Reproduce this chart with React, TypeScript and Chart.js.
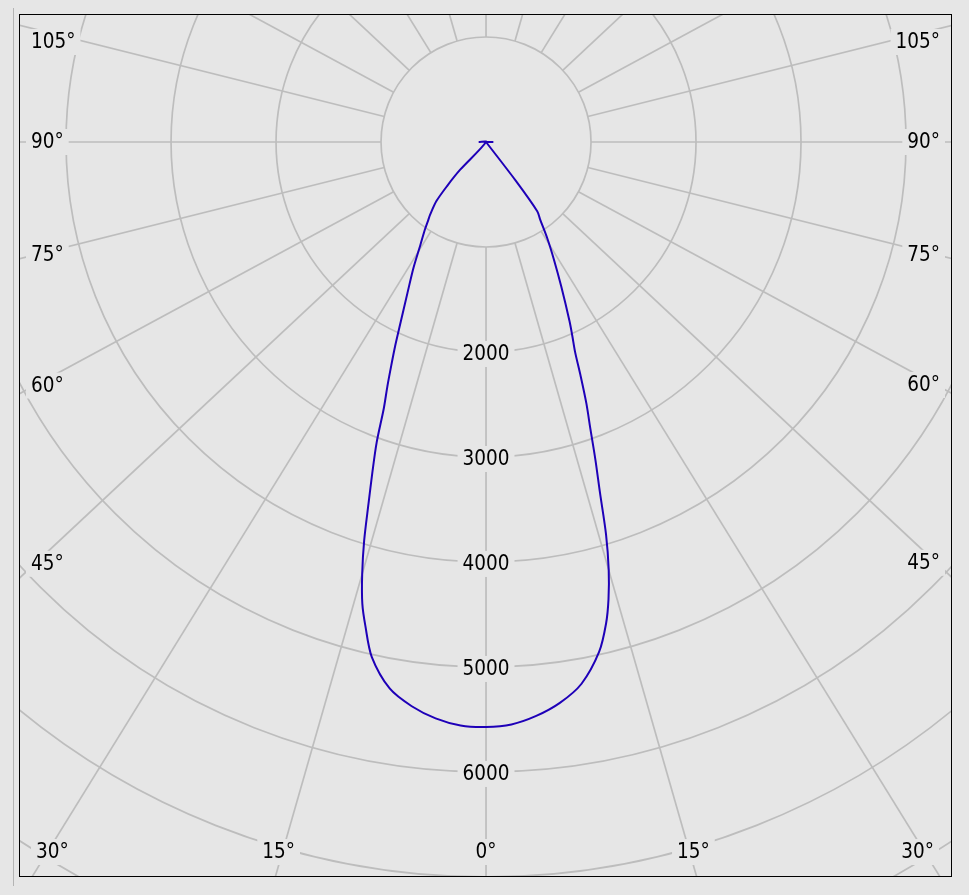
import { useEffect, useRef } from "react";
import { Chart, registerables } from "chart.js";

Chart.register(...registerables);

// Gamma angles (deg from nadir) and luminous intensity (cd) for both half planes
const ANGLES = [0, 2.5, 5, 7.5, 10, 12.5, 14, 15, 16, 17, 18, 19, 20, 21, 22, 23, 24, 25, 27.5, 30, 32.5, 35, 36.5, 37.5, 40, 41.5, 43, 45, 90];
const C180_CD = [5571, 5562, 5510, 5420, 5285, 5025, 4750, 4552, 4279, 3970, 3622, 3323, 3045, 2716, 2507, 2308, 2129, 1955, 1620, 1380, 1165, 1012, 925, 876, 735, 560, 364, 0, 70];
const C0_CD = [5571, 5552, 5487, 5388, 5239, 4975, 4726, 4507, 4239, 3910, 3512, 3199, 2905, 2667, 2408, 2169, 2020, 1881, 1552, 1294, 1084, 896, 820, 470, 0, 0, 0, 0, 70];

// Grid
const RING_VALUES = [1000, 2000, 3000, 4000, 5000, 6000, 7000, 8000, 9000, 10000];
const RING_LABELS = [2000, 3000, 4000, 5000, 6000];
const SPOKE_ANGLES = [0, 15, 30, 45, 60, 75, 90, 105, 120, 135, 150, 165, 180, 195, 210, 225, 240, 255, 270, 285, 300, 315, 330, 345];
const SIDE_LABEL_ANGLES = [45, 60, 75, 90, 105];
const BOTTOM_LABEL_ANGLES = [0, 15, 30];

const BG = "#e6e6e6";
const GRID = "#bdbdbd";
const CURVE = "#1e00b8";
const FONT = "20.5px 'DejaVu Sans Condensed', 'DejaVu Sans', sans-serif";
const SPOKE_STRETCH = 1.07;
const SIDE_LABEL_STRETCH = 1.04;
const BOTTOM_LABEL_STRETCH = 1.09;

function toPoint(angleDeg: number, cd: number, side: number) {
  const t = (angleDeg * Math.PI) / 180;
  return { x: side * cd * Math.sin(t), y: -cd * Math.cos(t) };
}

const polarGrid = {
  id: "polarGrid",
  beforeDraw(chart: any) {
    const { ctx, chartArea: ca, scales } = chart;
    const xs = scales.x;
    const ys = scales.y;
    ctx.save();
    ctx.fillStyle = BG;
    ctx.fillRect(0, 0, chart.width, chart.height);

    ctx.strokeStyle = "#b4b4b4";
    ctx.lineWidth = 1;
    ctx.beginPath();
    ctx.moveTo(13.5, 8);
    ctx.lineTo(13.5, 886);
    ctx.stroke();

    const cx = xs.getPixelForValue(0);
    const cy = ys.getPixelForValue(0);
    const rad = (v: number) => xs.getPixelForValue(v) - cx;

    ctx.beginPath();
    ctx.rect(ca.left, ca.top, ca.right - ca.left, ca.bottom - ca.top);
    ctx.clip();

    ctx.strokeStyle = GRID;
    ctx.lineWidth = 1.7;
    for (const v of RING_VALUES) {
      ctx.beginPath();
      ctx.arc(cx, cy, rad(v), 0, Math.PI * 2);
      ctx.stroke();
    }
    const r0 = rad(RING_VALUES[0]);
    for (const a of SPOKE_ANGLES) {
      const t = (a * Math.PI) / 180;
      let ux = SPOKE_STRETCH * Math.sin(t);
      let uy = Math.cos(t);
      const n = Math.hypot(ux, uy);
      ux /= n;
      uy /= n;
      ctx.beginPath();
      ctx.moveTo(cx + ux * r0, cy + uy * r0);
      ctx.lineTo(cx + ux * 3000, cy + uy * 3000);
      ctx.stroke();
    }

    ctx.font = FONT;
    ctx.textAlign = "center";
    ctx.textBaseline = "middle";
    const label = (text: string, x: number, y: number) => {
      const w = ctx.measureText(text).width;
      ctx.fillStyle = BG;
      ctx.fillRect(x - w / 2 - 5, y - 13, w + 10, 26);
      ctx.fillStyle = "#000";
      ctx.fillText(text, x, y + 1);
    };

    for (const v of RING_LABELS) {
      label(String(v), cx, cy + rad(v) + 2);
    }

    for (const a of SIDE_LABEL_ANGLES) {
      const text = a + "°";
      const w = ctx.measureText(text).width;
      const t = (a * Math.PI) / 180;
      for (const side of [-1, 1]) {
        const xc = side < 0 ? ca.left + 12 + w / 2 : ca.right - 12 - w / 2;
        const k = Math.abs(xc - cx) / (SIDE_LABEL_STRETCH * Math.sin(t));
        let y = cy + k * Math.cos(t);
        y = Math.max(y, ca.top + 28);
        label(text, xc, y);
      }
    }

    const by = ca.bottom - 25;
    for (const a of BOTTOM_LABEL_ANGLES) {
      const text = a + "°";
      const w = ctx.measureText(text).width;
      const t = (a * Math.PI) / 180;
      const sides = a === 0 ? [1] : [-1, 1];
      for (const side of sides) {
        const k = (by - cy) / Math.cos(t);
        let x = cx + side * k * BOTTOM_LABEL_STRETCH * Math.sin(t);
        x = Math.min(Math.max(x, ca.left + 17 + w / 2), ca.right - 18 - w / 2);
        label(text, x, by);
      }
    }
    ctx.restore();
  },
  afterDraw(chart: any) {
    const { ctx, chartArea: ca } = chart;
    ctx.save();
    ctx.strokeStyle = "#000";
    ctx.lineWidth = 1;
    ctx.strokeRect(ca.left + 0.5, ca.top + 0.5, ca.right - ca.left - 1, ca.bottom - ca.top - 1);
    ctx.restore();
  },
};

export default function App() {
  const ref = useRef<HTMLCanvasElement | null>(null);

  useEffect(() => {
    if (!ref.current) return;
    const points: { x: number; y: number }[] = [];
    for (let i = ANGLES.length - 1; i >= 0; i--) points.push(toPoint(ANGLES[i], C180_CD[i], -1));
    for (let i = 1; i < ANGLES.length; i++) points.push(toPoint(ANGLES[i], C0_CD[i], 1));

    const chart = new Chart(ref.current, {
      type: "scatter",
      data: {
        datasets: [
          {
            data: points,
            showLine: true,
            borderColor: CURVE,
            borderWidth: 2,
            pointRadius: 0,
            tension: 0.3,
            fill: false,
          },
        ],
      },
      options: {
        responsive: false,
        animation: false,
        events: [],
        layout: { padding: { left: 19, top: 14, right: 17, bottom: 18 } },
        scales: {
          x: { type: "linear", display: false, min: -4448, max: 4438 },
          y: { type: "linear", display: false, min: -7000, max: 1219 },
        },
        plugins: { legend: { display: false }, tooltip: { enabled: false } },
      },
      plugins: [polarGrid],
    });
    return () => chart.destroy();
  }, []);

  return (
    <div style={{ position: "absolute", left: 0, top: 0, width: 969, height: 895, background: BG }}>
      <canvas ref={ref} width={969} height={895} style={{ display: "block" }} />
    </div>
  );
}
